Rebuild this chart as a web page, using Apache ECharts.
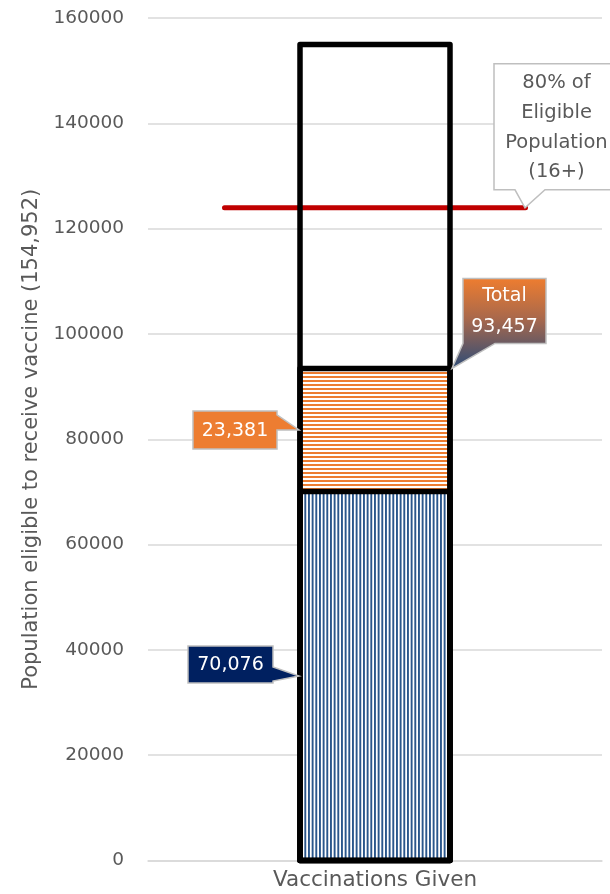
<!DOCTYPE html>
<html>
<head>
<meta charset="utf-8">
<script src="https://cdn.jsdelivr.net/npm/echarts@6/dist/echarts.min.js"></script>
<style>
html,body{margin:0;padding:0;background:#fff;}
#chart{width:610px;height:894px;}
</style>
</head>
<body>
<div id="chart"></div>
<script>
// ---- data ----
const categories = ['Vaccinations Given'];
const fullyVaccinated = [70076];
const partiallyVaccinated = [23381];
const totalGiven = [93457];
const eligiblePopulation = [154952];
const targetValue = 123962; // 80% of eligible population (16+)
const yTicks = { min: 0, max: 160000, interval: 20000 };
const axisTitle = 'Population eligible to receive vaccine (154,952)';
const targetText = '80% of\nEligible\nPopulation\n(16+)';

// ---- layout / style ----
const FONT = 'DejaVu Sans';
const BAR_W = 150;
const LINE_SPAN = 0.3315;

function makePattern(kind) {
  const c = document.createElement('canvas');
  if (kind === 'v') {
    c.width = 11; c.height = 4;
    const g = c.getContext('2d');
    g.fillStyle = '#ffffff'; g.fillRect(0, 0, 11, 4);
    g.fillStyle = '#2a568b';
    for (let i = 0; i < 3; i++) g.fillRect(i * 11 / 3, 0, 1.9, 4);
  } else {
    c.width = 4; c.height = 4;
    const g = c.getContext('2d');
    g.fillStyle = '#ffffff'; g.fillRect(0, 0, 4, 4);
    g.fillStyle = '#ed7d31';
    g.fillRect(0, 0, 4, 2);
  }
  return { image: c, repeat: 'repeat' };
}

const fmt = v => v.toLocaleString('en-US');

const CALLOUTS = [
  { side: 'right', tipDx: -76, box: [-111, -30, -26, 7], wedge: [-9, 5],
    fill: '#002060', color: '#ffffff', text: fmt(fullyVaccinated[0]), lh: 22, fs: 19 },
  { side: 'right', tipDx: -76, box: [-106, -19, -22, 19], wedge: [-15, 0],
    fill: '#ed7d31', color: '#ffffff', text: fmt(partiallyVaccinated[0]), lh: 22, fs: 19 },
  { side: 'bottom', tipDx: 77, box: [11, -90, 94, -25], wedge: [11, 43],
    fill: 'grad', color: '#ffffff', text: 'Total\n' + fmt(totalGiven[0]), lh: 31, fs: 19 },
  { side: 'bottom', tipDx: 150, box: [-31, -144, 94, -18], wedge: [-10, 20],
    fill: '#ffffff', color: '#595959', text: targetText, lh: 29.7, fs: 19.5 }
];

const chart = echarts.init(document.getElementById('chart'), null, { renderer: 'canvas' });

const option = {
  backgroundColor: '#ffffff',
  animation: false,
  grid: { left: 148, right: 8, top: 18, bottom: 33.5, containLabel: false, outerBoundsMode: 'none' },
  xAxis: [
    {
      type: 'category', data: categories,
      axisLine: { show: true, lineStyle: { color: '#d9d9d9', width: 1.5 } },
      axisTick: { show: false },
      axisLabel: { color: '#595959', fontFamily: FONT, fontSize: 21.5, margin: 9 },
      splitLine: { show: false }
    },
    { type: 'value', min: 0, max: 1, show: false }
  ],
  yAxis: {
    type: 'value', min: yTicks.min, max: yTicks.max, interval: yTicks.interval,
    name: axisTitle, nameLocation: 'middle', nameGap: 104,
    nameTextStyle: { color: '#595959', fontFamily: FONT, fontSize: 21 },
    axisLine: { show: false }, axisTick: { show: false },
    axisLabel: { color: '#595959', fontFamily: FONT, fontSize: 18.5, margin: 24,
                 formatter: v => String(v) },
    splitLine: { show: true, lineStyle: { color: '#d9d9d9', width: 1.5 } }
  },
  series: [
    {
      name: '80% target', type: 'line', xAxisIndex: 1, yAxisIndex: 0,
      data: [[0.5 - LINE_SPAN, targetValue], [0.5 + LINE_SPAN, targetValue]],
      symbol: 'none', z: 1, silent: true,
      lineStyle: { color: '#c00000', width: 5, cap: 'round' }
    },
    {
      name: 'Fully vaccinated', type: 'bar', stack: 'given', barWidth: BAR_W,
      data: fullyVaccinated, z: 2,
      itemStyle: { color: makePattern('v'), borderWidth: 0 }
    },
    {
      name: 'Partially vaccinated', type: 'bar', stack: 'given', barWidth: BAR_W,
      data: partiallyVaccinated, z: 2,
      itemStyle: { color: makePattern('h'), borderWidth: 0 }
    },
    {
      // black outlines: each drawn from 0 up to its value, stroke centred on the edges
      name: 'Outlines', type: 'custom', xAxisIndex: 0, yAxisIndex: 0, z: 4, silent: true, clip: false,
      data: [[0, fullyVaccinated[0]], [0, totalGiven[0]], [0, eligiblePopulation[0]]],
      encode: { x: 0, y: 1 },
      renderItem: function (params, api) {
        const top = api.coord([api.value(0), api.value(1)]);
        const base = api.coord([api.value(0), 0]);
        return {
          type: 'rect',
          shape: { x: top[0] - BAR_W / 2, y: top[1], width: BAR_W, height: base[1] - top[1] },
          style: { fill: null, stroke: '#000000', lineWidth: 5.5, lineJoin: 'round' }
        };
      }
    },
    {
      name: 'Callouts', type: 'custom', xAxisIndex: 0, yAxisIndex: 0, z: 10, silent: true, clip: false,
      data: [
        [0, fullyVaccinated[0] / 2],
        [0, fullyVaccinated[0] + partiallyVaccinated[0] / 2],
        [0, totalGiven[0]],
        [0, targetValue]
      ],
      encode: { x: 0, y: 1 },
      renderItem: function (params, api) {
        const c = CALLOUTS[params.dataIndex];
        const p = api.coord([api.value(0), api.value(1)]);
        const tx = p[0] + c.tipDx, ty = p[1];
        const L = tx + c.box[0], T = ty + c.box[1], R = tx + c.box[2], B = ty + c.box[3];
        let pts;
        if (c.side === 'right') {
          pts = [[L, T], [R, T], [R, ty + c.wedge[0]], [tx, ty], [R, ty + c.wedge[1]], [R, B], [L, B]];
        } else {
          pts = [[L, T], [R, T], [R, B], [tx + c.wedge[1], B], [tx, ty], [tx + c.wedge[0], B], [L, B]];
        }
        const fill = c.fill === 'grad'
          ? new echarts.graphic.LinearGradient(0, 0, 0, 1, [
              { offset: 0, color: '#ef7d2f' },
              { offset: 0.45, color: '#a8684c' },
              { offset: 1, color: '#2c4c78' }
            ])
          : c.fill;
        return {
          type: 'group',
          children: [
            { type: 'polygon', shape: { points: pts },
              style: { fill: fill, stroke: '#bfbfbf', lineWidth: 1.5 } },
            { type: 'text',
              style: { text: c.text, x: (L + R) / 2, y: (T + B) / 2 + 1, align: 'center', verticalAlign: 'middle',
                       fontFamily: FONT, fontSize: c.fs, fill: c.color, lineHeight: c.lh } }
          ]
        };
      }
    }
  ]
};

chart.setOption(option);
</script>
</body>
</html>
